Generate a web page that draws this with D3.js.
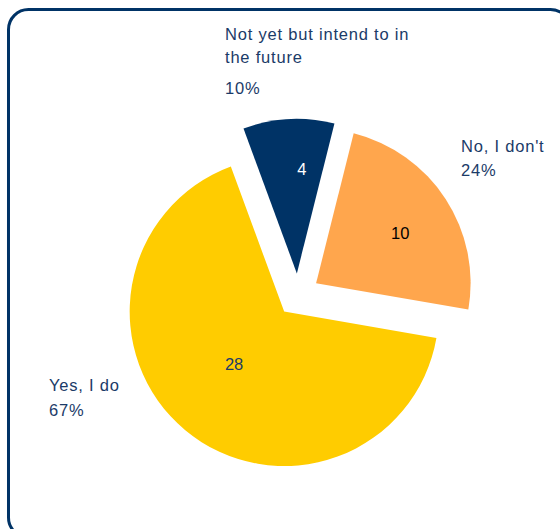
<!DOCTYPE html>
<html>
<head>
<meta charset="utf-8">
<script src="https://cdn.jsdelivr.net/npm/d3@7"></script>
<style>
  html, body { margin: 0; padding: 0; background: #ffffff; }
  svg { display: block; }
  text { font-family: "Liberation Sans", Arial, sans-serif; font-size: 16.5px; }
</style>
</head>
<body>
<svg id="chart" width="560" height="529"></svg>
<script>
// Survey answers and their counts
const categories = ["Not yet but intend to in the future", "No, I don't", "Yes, I do"];
const counts = [4, 10, 28];
const sliceColors = ["#003366", "#FFA64D", "#FFCC00"];
const valueTextColors = ["#FFFFFF", "#000000", "#1B3B68"];

const svg = d3.select("#chart");
const labelColor = "#1B3B68";
const deg = Math.PI / 180;

// Rounded frame around the chart area
svg.append("rect")
  .attr("x", 8.5).attr("y", 9.5)
  .attr("width", 562).attr("height", 528)
  .attr("rx", 20).attr("ry", 20)
  .attr("fill", "#ffffff")
  .attr("stroke", "#003366")
  .attr("stroke-width", 3);

// Pie geometry
const cx = 298, cy = 295, radius = 154.5, explode = 21.6;
const startAngle = -20.2 * deg;

const pie = d3.pie()
  .sort(null)
  .value(d => d)
  .startAngle(startAngle)
  .endAngle(startAngle + 2 * Math.PI);

const arcs = pie(counts);
const total = d3.sum(counts);
const arc = d3.arc().innerRadius(0).outerRadius(radius);

const polar = (r, a) => [r * Math.sin(a), -r * Math.cos(a)];
const midAngle = d => (d.startAngle + d.endAngle) / 2;

const chart = svg.append("g").attr("transform", `translate(${cx},${cy})`);

// Each slice is pulled out from the centre along its mid angle
const slices = chart.selectAll("g.slice")
  .data(arcs)
  .join("g")
  .attr("class", "slice")
  .attr("transform", d => {
    const [x, y] = polar(explode, midAngle(d));
    return `translate(${x},${y})`;
  });

slices.append("path")
  .attr("d", arc)
  .attr("fill", (d, i) => sliceColors[i]);

// Count labels inside the slices: distance from the slice tip and angle shift
const valuePlacement = [
  { r: 104, shift: 5.8 },
  { r: 98, shift: 2.2 },
  { r: 73, shift: 3.5 }
];

slices.append("text")
  .attr("x", (d, i) => polar(valuePlacement[i].r, midAngle(d) + valuePlacement[i].shift * deg)[0])
  .attr("y", (d, i) => polar(valuePlacement[i].r, midAngle(d) + valuePlacement[i].shift * deg)[1])
  .attr("dy", "0.35em")
  .attr("text-anchor", "middle")
  .attr("fill", (d, i) => valueTextColors[i])
  .text(d => d.value);

// Category callouts with percentage share
const calloutPlacement = [
  { x: 225, y: 40, lineGap: 23.3, pctGap: 30.7, maxWidth: 205 },
  { x: 461, y: 151.7, lineGap: 24, pctGap: 24, maxWidth: 205 },
  { x: 49, y: 390.7, lineGap: 25.3, pctGap: 25.3, maxWidth: 205 }
];

const pctFormat = v => Math.round(v / total * 100) + "%";

arcs.forEach((d, i) => {
  const p = calloutPlacement[i];
  const t = svg.append("text")
    .attr("fill", labelColor)
    .attr("letter-spacing", "0.8px");

  // word wrap the category name
  const words = categories[i].split(" ");
  let lines = [];
  let line = [];
  const probe = svg.append("text").attr("letter-spacing", "0.8px").attr("visibility", "hidden");
  words.forEach(w => {
    const trial = line.concat(w).join(" ");
    probe.text(trial);
    if (line.length && probe.node().getComputedTextLength() > p.maxWidth) {
      lines.push(line.join(" "));
      line = [w];
    } else {
      line.push(w);
    }
  });
  lines.push(line.join(" "));
  probe.remove();

  lines.forEach((ln, k) => {
    t.append("tspan")
      .attr("x", p.x)
      .attr("y", p.y + k * p.lineGap)
      .text(ln);
  });
  t.append("tspan")
    .attr("x", p.x)
    .attr("y", p.y + (lines.length - 1) * p.lineGap + p.pctGap)
    .text(pctFormat(d.value));
});
</script>
</body>
</html>
